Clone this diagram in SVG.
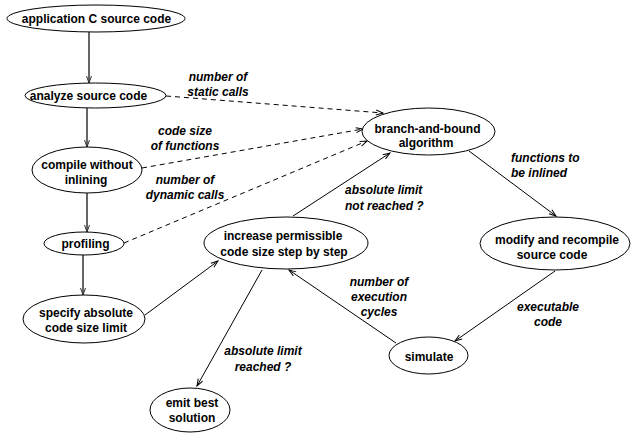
<svg xmlns="http://www.w3.org/2000/svg" width="631" height="433" viewBox="0 0 631 433">
<style>
.node ellipse{fill:#fff;stroke:#000;stroke-width:1}
.nt{font-family:"Liberation Sans",Arial,sans-serif;font-weight:bold;font-size:12px;text-anchor:middle;fill:#000}
.lbl{font-family:"Liberation Sans",Arial,sans-serif;font-weight:bold;font-style:italic;font-size:12px;fill:#000}
.edge line{stroke:#000;stroke-width:1;fill:none;marker-end:url(#arr)}
.edge line.d{stroke-dasharray:5,4}
.edge line.v{stroke:#666;stroke-width:2;marker-end:url(#arrv)}
</style>
<defs>
<marker id="arr" markerWidth="10" markerHeight="8" refX="9" refY="4" orient="auto" markerUnits="userSpaceOnUse">
<path d="M2,1.5 L9,4 L2,6.5" fill="none" stroke="#000" stroke-width="1"/>
</marker>
<marker id="arrv" markerWidth="10" markerHeight="8" refX="9" refY="4" orient="auto" markerUnits="userSpaceOnUse">
<path d="M2,1.5 L9,4 L2,6.5" fill="none" stroke="#333" stroke-width="1"/>
</marker>
</defs>
<rect width="631" height="433" fill="#fff"/>
<g class="edge" id="connectors">
<line class="v" x1="89" y1="32" x2="89" y2="83"/>
<line class="v" x1="87" y1="108" x2="87" y2="147"/>
<line class="v" x1="87" y1="193" x2="87" y2="232"/>
<line class="v" x1="83" y1="255" x2="83" y2="295"/>
<line class="d" x1="166" y1="96" x2="383" y2="113"/>
<line class="d" x1="142" y1="168" x2="363" y2="129"/>
<line class="d" x1="124" y1="243" x2="367" y2="141"/>
<line x1="145" y1="315" x2="218" y2="261"/>
<line x1="293" y1="216" x2="390" y2="153"/>
<line x1="262" y1="270" x2="197" y2="386"/>
<line x1="396" y1="343" x2="289" y2="270"/>
<line x1="469" y1="151" x2="556" y2="216"/>
<line x1="555" y1="271" x2="455" y2="341"/>
</g>
<g class="node" id="n-app"><ellipse cx="96" cy="18.5" rx="89" ry="13.5"/><text class="nt" x="96.5" y="23">application C source code</text></g>
<g class="node" id="n-analyze"><ellipse cx="95.5" cy="95.5" rx="70.5" ry="12.5"/><text class="nt" x="88.5" y="100">analyze source code</text></g>
<g class="node" id="n-compile"><ellipse cx="87" cy="170" rx="55" ry="23"/><text class="nt" x="87" y="169">compile without</text><text class="nt" x="86" y="184">inlining</text></g>
<g class="node" id="n-profiling"><ellipse cx="84" cy="243.5" rx="40" ry="11.5"/><text class="nt" x="85.5" y="247.5">profiling</text></g>
<g class="node" id="n-specify"><ellipse cx="84" cy="319" rx="61" ry="24"/><text class="nt" x="86" y="316.5">specify absolute</text><text class="nt" x="86" y="332">code size limit</text></g>
<g class="node" id="n-emit"><ellipse cx="190" cy="410" rx="40" ry="22"/><text class="nt" x="192" y="407">emit best</text><text class="nt" x="192" y="422">solution</text></g>
<g class="node" id="n-increase"><ellipse cx="286" cy="243" rx="82" ry="26"/><text class="nt" x="283" y="240">increase permissible</text><text class="nt" x="284" y="255.5">code size step by step</text></g>
<g class="node" id="n-bnb"><ellipse cx="428.5" cy="131.5" rx="66.5" ry="23.5"/><text class="nt" x="427.5" y="132.5">branch-and-bound</text><text class="nt" x="426" y="147">algorithm</text></g>
<g class="node" id="n-modify"><ellipse cx="555" cy="243.5" rx="75" ry="26.5"/><text class="nt" x="557" y="244">modify and recompile</text><text class="nt" x="552" y="259">source code</text></g>
<g class="node" id="n-simulate"><ellipse cx="428.5" cy="355.5" rx="39.5" ry="18.5"/><text class="nt" x="429" y="361">simulate</text></g>
<g id="labels">
<text class="lbl" x="218" y="81" text-anchor="middle">number of</text>
<text class="lbl" x="218" y="96" text-anchor="middle">static calls</text>
<text class="lbl" x="185" y="135" text-anchor="middle">code size</text>
<text class="lbl" x="185" y="150" text-anchor="middle">of functions</text>
<text class="lbl" x="185" y="184" text-anchor="middle">number of</text>
<text class="lbl" x="185" y="199" text-anchor="middle">dynamic calls</text>
<text class="lbl" x="345" y="194">absolute limit</text>
<text class="lbl" x="345" y="210">not reached ?</text>
<text class="lbl" x="511" y="162">functions to</text>
<text class="lbl" x="511" y="177">be inlined</text>
<text class="lbl" x="379" y="286" text-anchor="middle">number of</text>
<text class="lbl" x="379" y="301" text-anchor="middle">execution</text>
<text class="lbl" x="379" y="316" text-anchor="middle">cycles</text>
<text class="lbl" x="548" y="311" text-anchor="middle">executable</text>
<text class="lbl" x="548" y="326" text-anchor="middle">code</text>
<text class="lbl" x="263" y="355" text-anchor="middle">absolute limit</text>
<text class="lbl" x="263" y="371" text-anchor="middle">reached ?</text>
</g>
</svg>
